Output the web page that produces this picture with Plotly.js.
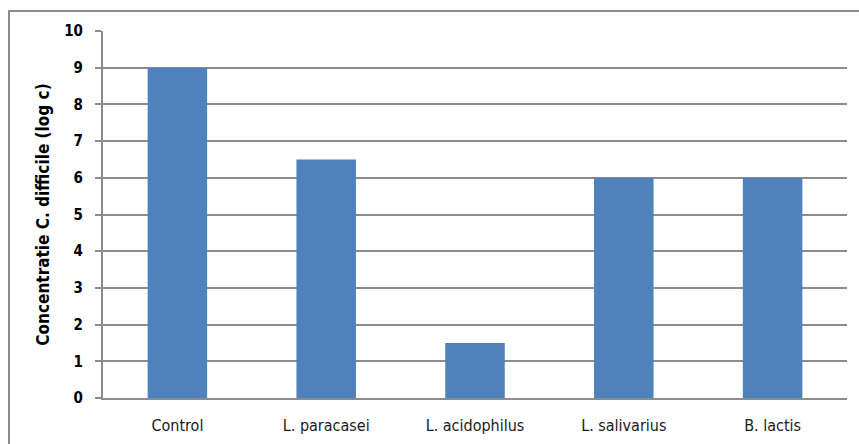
<!DOCTYPE html>
<html>
<head>
<meta charset="utf-8">
<script src="https://cdn.plot.ly/plotly-3.0.1.min.js"></script>
<style>
  html, body { margin: 0; padding: 0; background: #fff; }
  #wrap { position: relative; width: 859px; height: 444px; }
  #chart { position: absolute; left: 0; top: 0; width: 859px; height: 444px; }
  #frame { position: absolute; left: 8px; top: 10px; width: 860px; height: 440px;
           border-left: 2px solid #8c8c8c; border-top: 2px solid #8c8c8c; pointer-events: none; }
</style>
</head>
<body>
<div id="wrap">
  <div id="chart"></div>
  <div id="frame"></div>
</div>
<script>
const categories = ["Control", "L. paracasei", "L. acidophilus", "L. salivarius", "B. lactis"];
const values = [9, 6.5, 1.5, 6, 6];
const yTicks = [0, 1, 2, 3, 4, 5, 6, 7, 8, 9, 10];

const FONT = "DejaVu Sans Condensed, Liberation Sans Narrow, Arial";

const trace = {
  type: "bar",
  x: categories,
  y: values,
  marker: { color: "#4f81bd", line: { width: 0 } },
  hoverinfo: "x+y"
};

const layout = {
  width: 859,
  height: 444,
  margin: { l: 103, r: 12, t: 31, b: 46 },
  paper_bgcolor: "#ffffff",
  plot_bgcolor: "#ffffff",
  bargap: 0.6,
  showlegend: false,
  font: { family: FONT, color: "#000000" },
  xaxis: {
    type: "category",
    showgrid: false,
    showline: true,
    linecolor: "#8c8c8c",
    linewidth: 2,
    ticks: "",
    ticklabelstandoff: 12,
    tickfont: { size: 16, color: "#1a1a1a", family: FONT },
    zeroline: false
  },
  yaxis: {
    range: [0, 10],
    tickvals: yTicks,
    ticktext: yTicks.map(String),
    showgrid: true,
    gridcolor: "#8c8c8c",
    gridwidth: 2,
    showline: true,
    linecolor: "#8c8c8c",
    linewidth: 2,
    ticks: "outside",
    ticklen: 6,
    tickwidth: 2,
    tickcolor: "#8c8c8c",
    ticklabelstandoff: 9,
    zeroline: false,
    tickfont: { size: 15, color: "#000000", family: FONT, weight: "bold" },
    title: {
      text: "Concentratie C. difficile (log c)",
      font: { size: 17, color: "#000000", family: FONT, weight: "bold" },
      standoff: 10
    }
  }
};

Plotly.newPlot("chart", [trace], layout, { displayModeBar: false, staticPlot: true });
</script>
</body>
</html>
